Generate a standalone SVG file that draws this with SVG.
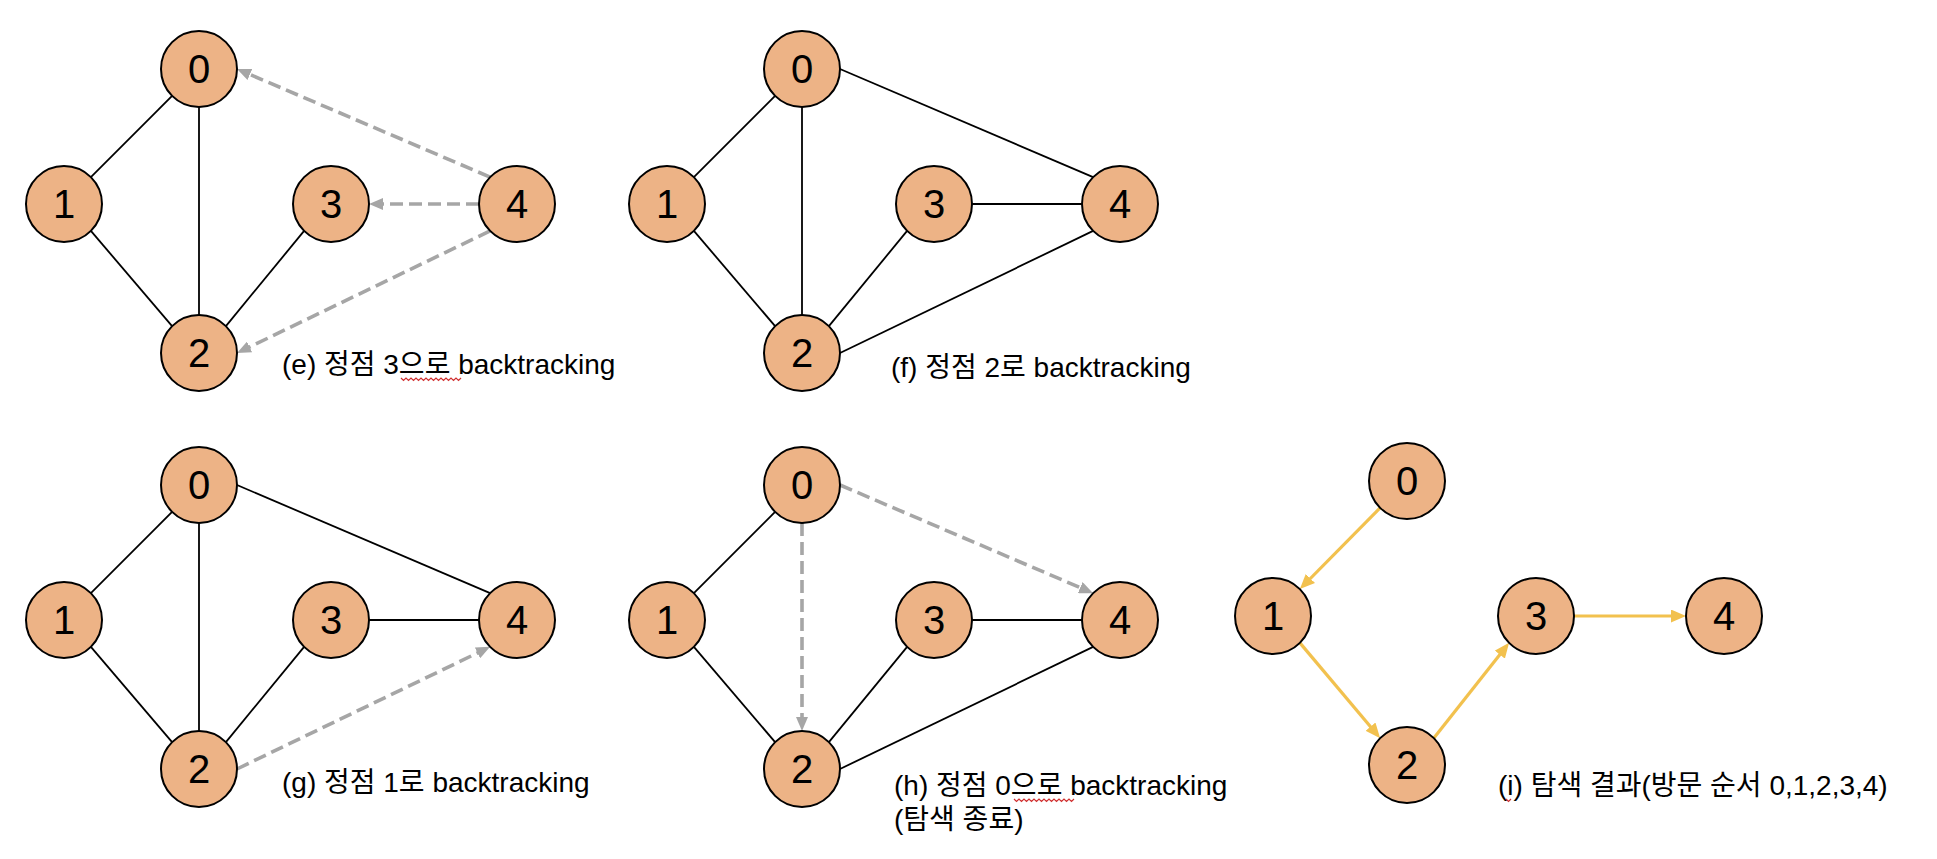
<svg xmlns="http://www.w3.org/2000/svg" width="1937" height="859" viewBox="0 0 1937 859">
<style>
  .bg { fill: #ffffff; }
  .node circle { fill: #EDB386; stroke: #000000; stroke-width: 2; }
  .node text { font-family: 'Liberation Sans', 'Noto Sans CJK KR', sans-serif; font-size: 40px; fill: #000000; text-anchor: middle; }
  .edge { stroke: #000000; stroke-width: 1.8; fill: none; }
  .back { stroke: #A6A6A6; stroke-width: 3.6; stroke-dasharray: 13 6; fill: none; }
  .visit { stroke: #F2C14E; stroke-width: 3.2; fill: none; }
  .label { font-family: 'Liberation Sans', 'Noto Sans CJK KR', sans-serif; font-size: 28px; fill: #000000; }
  .squiggle { stroke: #D03030; stroke-width: 1.2; fill: none; }
</style>
<defs>
  <marker id="ah-gray" markerUnits="userSpaceOnUse" markerWidth="14" markerHeight="12" refX="4" refY="6" orient="auto">
    <path d="M0,0 L14,6 L0,12 z" fill="#A6A6A6"/>
  </marker>
  <marker id="ah-yellow" markerUnits="userSpaceOnUse" markerWidth="15" markerHeight="13" refX="5" refY="6.5" orient="auto">
    <path d="M0,0 L15,6.5 L0,13 z" fill="#F2C14E"/>
  </marker>
</defs>
<rect class="bg" x="0" y="0" width="1937" height="859"/>

<g id="connectors">
  <!-- panel e -->
  <line class="edge" x1="172.1" y1="95.9" x2="90.9" y2="177.1"/>
  <line class="edge" x1="199" y1="107" x2="199" y2="315"/>
  <line class="edge" x1="90.9" y1="230.9" x2="172.1" y2="326.1"/>
  <line class="edge" x1="225.9" y1="326.1" x2="304.1" y2="230.9"/>
  <line class="back" x1="490.1" y1="177.1" x2="246.2" y2="72.9" marker-end="url(#ah-gray)"/>
  <line class="back" x1="479" y1="204" x2="379" y2="204" marker-end="url(#ah-gray)"/>
  <line class="back" x1="490.1" y1="230.9" x2="246.0" y2="348.7" marker-end="url(#ah-gray)"/>
  <!-- panel f -->
  <line class="edge" x1="775.1" y1="95.9" x2="693.9" y2="177.1"/>
  <line class="edge" x1="802" y1="107" x2="802" y2="315"/>
  <line class="edge" x1="693.9" y1="230.9" x2="775.1" y2="326.1"/>
  <line class="edge" x1="828.9" y1="326.1" x2="907.1" y2="230.9"/>
  <line class="edge" x1="972" y1="204" x2="1082" y2="204"/>
  <line class="edge" x1="840" y1="69" x2="1093.1" y2="177.1"/>
  <line class="edge" x1="840" y1="353" x2="1093.1" y2="230.9"/>
  <!-- panel g -->
  <line class="edge" x1="172.1" y1="511.9" x2="90.9" y2="593.1"/>
  <line class="edge" x1="199" y1="523" x2="199" y2="731"/>
  <line class="edge" x1="90.9" y1="646.9" x2="172.1" y2="742.1"/>
  <line class="edge" x1="225.9" y1="742.1" x2="304.1" y2="646.9"/>
  <line class="edge" x1="369" y1="620" x2="479" y2="620"/>
  <line class="edge" x1="237" y1="485" x2="490.1" y2="593.1"/>
  <line class="back" x1="237" y1="769" x2="481.1" y2="651.2" marker-end="url(#ah-gray)"/>
  <!-- panel h -->
  <line class="edge" x1="775.1" y1="511.9" x2="693.9" y2="593.1"/>
  <line class="edge" x1="693.9" y1="646.9" x2="775.1" y2="742.1"/>
  <line class="edge" x1="828.9" y1="742.1" x2="907.1" y2="646.9"/>
  <line class="edge" x1="972" y1="620" x2="1082" y2="620"/>
  <line class="edge" x1="840" y1="769" x2="1093.1" y2="646.9"/>
  <line class="back" x1="840" y1="485" x2="1083.9" y2="589.2" marker-end="url(#ah-gray)"/>
  <line class="back" x1="802" y1="523" x2="802" y2="721" marker-end="url(#ah-gray)"/>
  <!-- panel i -->
  <line class="visit" x1="1380.1" y1="507.9" x2="1306.9" y2="582.0" marker-end="url(#ah-yellow)"/>
  <line class="visit" x1="1299.9" y1="642.9" x2="1373.7" y2="730.5" marker-end="url(#ah-yellow)"/>
  <line class="visit" x1="1433.9" y1="738.1" x2="1502.9" y2="650.7" marker-end="url(#ah-yellow)"/>
  <line class="visit" x1="1574" y1="616" x2="1676" y2="616" marker-end="url(#ah-yellow)"/>
</g>

<!-- panel e nodes -->
<g id="e-n0" class="node"><circle cx="199" cy="69" r="38"/><text x="199" y="83">0</text></g>
<g id="e-n1" class="node"><circle cx="64" cy="204" r="38"/><text x="64" y="218">1</text></g>
<g id="e-n3" class="node"><circle cx="331" cy="204" r="38"/><text x="331" y="218">3</text></g>
<g id="e-n4" class="node"><circle cx="517" cy="204" r="38"/><text x="517" y="218">4</text></g>
<g id="e-n2" class="node"><circle cx="199" cy="353" r="38"/><text x="199" y="367">2</text></g>

<!-- panel f nodes -->
<g id="f-n0" class="node"><circle cx="802" cy="69" r="38"/><text x="802" y="83">0</text></g>
<g id="f-n1" class="node"><circle cx="667" cy="204" r="38"/><text x="667" y="218">1</text></g>
<g id="f-n3" class="node"><circle cx="934" cy="204" r="38"/><text x="934" y="218">3</text></g>
<g id="f-n4" class="node"><circle cx="1120" cy="204" r="38"/><text x="1120" y="218">4</text></g>
<g id="f-n2" class="node"><circle cx="802" cy="353" r="38"/><text x="802" y="367">2</text></g>

<!-- panel g nodes -->
<g id="g-n0" class="node"><circle cx="199" cy="485" r="38"/><text x="199" y="499">0</text></g>
<g id="g-n1" class="node"><circle cx="64" cy="620" r="38"/><text x="64" y="634">1</text></g>
<g id="g-n3" class="node"><circle cx="331" cy="620" r="38"/><text x="331" y="634">3</text></g>
<g id="g-n4" class="node"><circle cx="517" cy="620" r="38"/><text x="517" y="634">4</text></g>
<g id="g-n2" class="node"><circle cx="199" cy="769" r="38"/><text x="199" y="783">2</text></g>

<!-- panel h nodes -->
<g id="h-n0" class="node"><circle cx="802" cy="485" r="38"/><text x="802" y="499">0</text></g>
<g id="h-n1" class="node"><circle cx="667" cy="620" r="38"/><text x="667" y="634">1</text></g>
<g id="h-n3" class="node"><circle cx="934" cy="620" r="38"/><text x="934" y="634">3</text></g>
<g id="h-n4" class="node"><circle cx="1120" cy="620" r="38"/><text x="1120" y="634">4</text></g>
<g id="h-n2" class="node"><circle cx="802" cy="769" r="38"/><text x="802" y="783">2</text></g>

<!-- panel i nodes -->
<g id="i-n0" class="node"><circle cx="1407" cy="481" r="38"/><text x="1407" y="495">0</text></g>
<g id="i-n1" class="node"><circle cx="1273" cy="616" r="38"/><text x="1273" y="630">1</text></g>
<g id="i-n3" class="node"><circle cx="1536" cy="616" r="38"/><text x="1536" y="630">3</text></g>
<g id="i-n4" class="node"><circle cx="1724" cy="616" r="38"/><text x="1724" y="630">4</text></g>
<g id="i-n2" class="node"><circle cx="1407" cy="765" r="38"/><text x="1407" y="779">2</text></g>

<!-- captions -->
<g id="captions">
  <text class="label" x="282" y="374">(e) 정점 3으로 backtracking</text>
  <text class="label" x="891" y="377">(f) 정점 2로 backtracking</text>
  <text class="label" x="282" y="792">(g) 정점 1로 backtracking</text>
  <text class="label" x="894" y="795">(h) 정점 0으로 backtracking</text>
  <text class="label" x="894" y="829">(탐색 종료)</text>
  <text class="label" x="1498" y="795">(i) 탐색 결과(방문 순서 0,1,2,3,4)</text>
  <path class="squiggle" d="M401,378 l2.5,2.5 l2.5,-2.5 l2.5,2.5 l2.5,-2.5 l2.5,2.5 l2.5,-2.5 l2.5,2.5 l2.5,-2.5 l2.5,2.5 l2.5,-2.5 l2.5,2.5 l2.5,-2.5 l2.5,2.5 l2.5,-2.5 l2.5,2.5 l2.5,-2.5 l2.5,2.5 l2.5,-2.5 l2.5,2.5 l2.5,-2.5 l2.5,2.5 l2.5,-2.5 l2.5,2.5 l2.5,-2.5"/>
  <path class="squiggle" d="M1014,799 l2.5,2.5 l2.5,-2.5 l2.5,2.5 l2.5,-2.5 l2.5,2.5 l2.5,-2.5 l2.5,2.5 l2.5,-2.5 l2.5,2.5 l2.5,-2.5 l2.5,2.5 l2.5,-2.5 l2.5,2.5 l2.5,-2.5 l2.5,2.5 l2.5,-2.5 l2.5,2.5 l2.5,-2.5 l2.5,2.5 l2.5,-2.5 l2.5,2.5 l2.5,-2.5 l2.5,2.5 l2.5,-2.5"/>
  <path class="squiggle" d="M1506,799 l2.5,2.5 l2.5,-2.5"/>
</g>
</svg>
